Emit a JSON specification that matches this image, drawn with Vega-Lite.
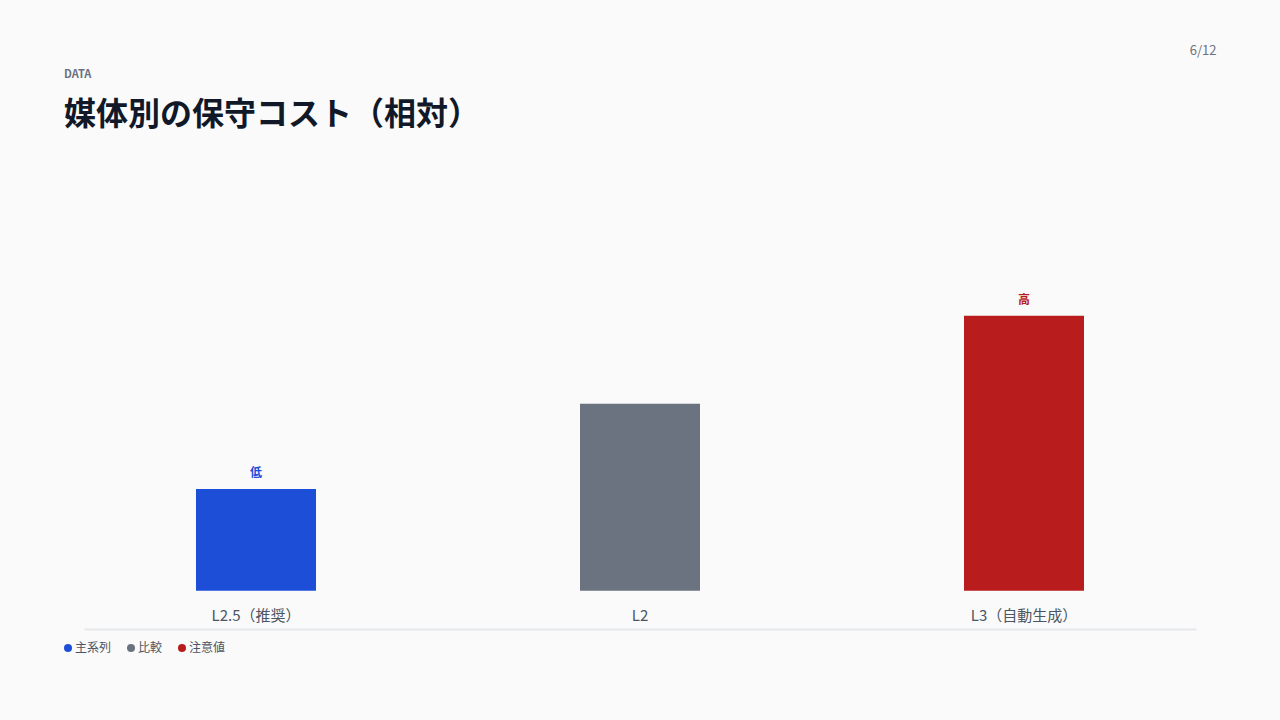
{
  "$schema": "https://vega.github.io/schema/vega-lite/v6.json",
  "autosize": {"type": "none"},
  "width": 1112,
  "height": 379,
  "padding": {"left": 84, "top": 250, "right": 84, "bottom": 91},
  "background": "#fafafa",
  "title": {
    "text": "DATA",
    "subtitle": "媒体別の保守コスト（相対）",
    "anchor": "start",
    "frame": "group",
    "dx": -20,
    "offset": -87,
    "font": "Noto Sans CJK JP",
    "fontSize": 11,
    "fontWeight": "bold",
    "color": "#6b7280",
    "subtitleFont": "Noto Sans CJK JP",
    "subtitleFontSize": 32,
    "subtitleFontWeight": "bold",
    "subtitleColor": "#111827",
    "subtitlePadding": 20
  },
  "data": {
    "values": [
      {"medium": "L2.5（推奨）", "cost": 37, "series": "主系列", "note": "低"},
      {"medium": "L2", "cost": 68, "series": "比較", "note": ""},
      {"medium": "L3（自動生成）", "cost": 100, "series": "注意値", "note": "高"}
    ]
  },
  "encoding": {
    "x": {
      "field": "medium",
      "type": "nominal",
      "sort": null,
      "scale": {"paddingInner": 0.5, "paddingOuter": 0.1979},
      "axis": {
        "title": null,
        "labels": false,
        "ticks": false,
        "domain": true,
        "domainColor": "#e5e7eb",
        "domainWidth": 2,
        "grid": false
      }
    }
  },
  "layer": [
    {
      "mark": {"type": "bar", "width": 120},
      "encoding": {
        "y": {
          "field": "cost",
          "type": "quantitative",
          "scale": {"domain": [-13.93, 123.89], "nice": false, "zero": false},
          "axis": {
            "orient": "right",
            "title": "6/12",
            "titleAngle": 0,
            "titleAlign": "right",
            "titleBaseline": "middle",
            "titleX": 20,
            "titleY": -200,
            "titleFont": "Noto Sans CJK JP",
            "titleFontSize": 13,
            "titleFontWeight": "normal",
            "titleColor": "#6b7280",
            "labels": false,
            "ticks": false,
            "domain": false,
            "grid": false
          }
        },
        "y2": {"datum": 0},
        "color": {
          "field": "series",
          "type": "nominal",
          "scale": {"domain": ["主系列", "比較", "注意値"], "range": ["#1d4ed8", "#6b7280", "#b91c1c"]},
          "legend": {
            "title": null,
            "orient": "none",
            "direction": "horizontal",
            "legendX": -22,
            "legendY": 392,
            "symbolType": "circle",
            "symbolSize": 64,
            "symbolStrokeWidth": 0,
            "labelFont": "Noto Sans CJK JP",
            "labelFontSize": 12,
            "labelColor": "#4b5563",
            "labelOffset": 1,
            "columnPadding": 13
          }
        }
      }
    },
    {
      "mark": {"type": "text", "dy": -16, "baseline": "middle", "font": "Noto Sans CJK JP", "fontSize": 12, "fontWeight": "bold"},
      "encoding": {
        "y": {"field": "cost", "type": "quantitative"},
        "text": {"field": "note"},
        "fill": {
          "field": "series",
          "type": "nominal",
          "scale": {"domain": ["主系列", "比較", "注意値"], "range": ["#1d4ed8", "#6b7280", "#b91c1c"]},
          "legend": null
        }
      }
    },
    {
      "mark": {"type": "text", "dy": 25, "baseline": "middle", "font": "Noto Sans CJK JP", "fontSize": 15, "color": "#4b5563"},
      "encoding": {
        "y": {"datum": 0},
        "text": {"field": "medium"}
      }
    }
  ],
  "config": {
    "view": {"stroke": null}
  }
}
